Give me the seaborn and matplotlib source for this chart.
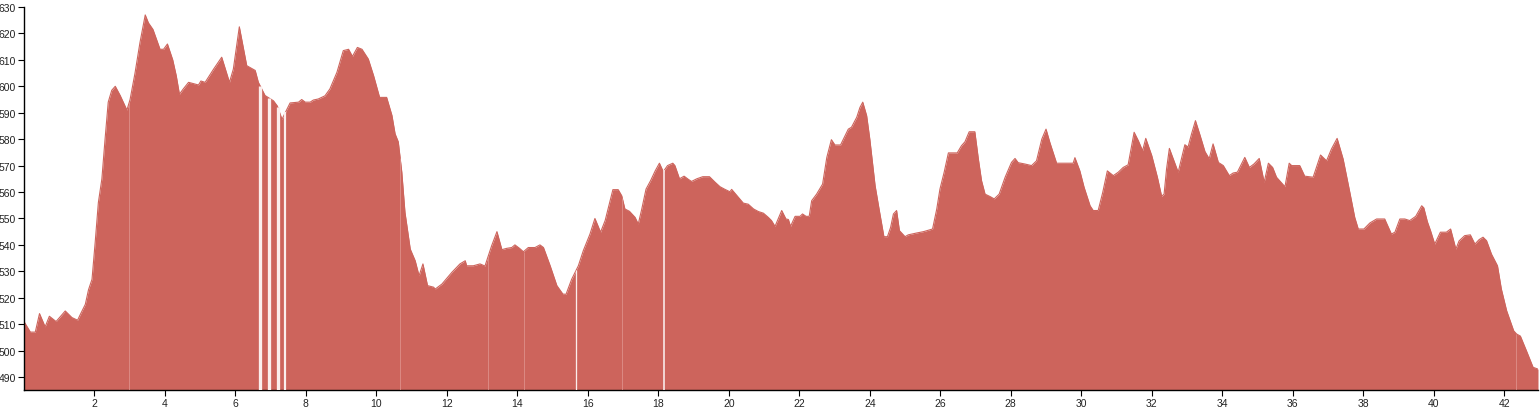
import matplotlib
matplotlib.use("Agg")
import matplotlib.pyplot as plt
import seaborn as sns
import numpy as np
import pandas as pd

# distance (km) and elevation (m)
km = [0.0, 0.18, 0.32, 0.44, 0.6, 0.72, 0.91, 1.17, 1.36, 1.52, 1.61, 1.74, 1.83, 1.93,
      2.02, 2.11, 2.21, 2.30, 2.39, 2.49, 2.59, 2.73, 2.92, 3.01, 3.15, 3.29, 3.44, 3.53,
      3.66, 3.86, 3.96, 4.07, 4.22, 4.32, 4.41, 4.52, 4.67, 4.81, 4.95, 5.02, 5.14, 5.38,
      5.61, 5.83, 5.94, 6.11, 6.32, 6.56, 6.65, 6.84, 7.08, 7.19, 7.32, 7.55, 7.79, 7.88,
      7.98, 8.12, 8.21, 8.35, 8.54, 8.68, 8.88, 9.06, 9.21, 9.32, 9.46, 9.59, 9.77, 9.92,
      10.09, 10.29, 10.44, 10.53, 10.62, 10.72, 10.81, 10.96, 11.10, 11.21, 11.32, 11.45,
      11.62, 11.67, 11.86, 12.14, 12.37, 12.52, 12.56, 12.75, 12.94, 13.08, 13.27, 13.42,
      13.56, 13.70, 13.84, 13.93, 14.06, 14.17, 14.31, 14.50, 14.64, 14.74, 14.93, 15.12,
      15.29, 15.38, 15.54, 15.73, 15.87, 16.06, 16.20, 16.36, 16.49, 16.71, 16.86, 16.96,
      17.05, 17.18, 17.34, 17.43, 17.53, 17.65, 17.78, 17.91, 18.03, 18.14, 18.26, 18.41,
      18.47, 18.60, 18.73, 18.85, 18.94, 19.09, 19.26, 19.45, 19.61, 19.75, 19.89, 20.03,
      20.08, 20.22, 20.41, 20.55, 20.70, 20.84, 20.98, 21.12, 21.21, 21.31, 21.40, 21.50,
      21.62, 21.69, 21.75, 21.88, 22.02, 22.09, 22.19, 22.28, 22.35, 22.49, 22.66, 22.78,
      22.91, 23.01, 23.17, 23.39, 23.48, 23.63, 23.72, 23.80, 23.91, 24.00, 24.15, 24.27,
      24.40, 24.50, 24.59, 24.67, 24.76, 24.84, 25.00, 25.09, 25.33, 25.52, 25.78, 25.90,
      25.99, 26.11, 26.23, 26.48, 26.60, 26.70, 26.82, 26.98, 27.08, 27.17, 27.27, 27.41,
      27.53, 27.67, 27.84, 28.02, 28.12, 28.21, 28.40, 28.59, 28.73, 28.88, 29.00, 29.11,
      29.30, 29.59, 29.77, 29.82, 29.96, 30.08, 30.25, 30.34, 30.48, 30.61, 30.74, 30.91,
      31.05, 31.19, 31.33, 31.50, 31.62, 31.74, 31.83, 32.00, 32.16, 32.28, 32.35, 32.42,
      32.50, 32.75, 32.94, 33.03, 33.13, 33.24, 33.37, 33.51, 33.63, 33.74, 33.89, 34.03,
      34.20, 34.31, 34.43, 34.64, 34.77, 34.90, 35.05, 35.19, 35.31, 35.43, 35.54, 35.78,
      35.90, 35.97, 36.20, 36.34, 36.58, 36.79, 36.96, 37.10, 37.26, 37.43, 37.62, 37.76,
      37.86, 38.02, 38.19, 38.38, 38.61, 38.80, 38.90, 39.04, 39.18, 39.32, 39.49, 39.66,
      39.72, 39.82, 39.91, 40.03, 40.19, 40.36, 40.48, 40.63, 40.72, 40.88, 41.04, 41.17,
      41.29, 41.40, 41.50, 41.64, 41.81, 41.92, 42.07, 42.27, 42.35, 42.46, 42.63, 42.82,
      42.96]

elevation = [511, 507, 507, 514, 509, 513, 511, 515, 512.5, 511.5, 514, 517.5, 523, 527,
             541, 556, 565, 580, 594, 598.5, 600, 596.5, 591, 595, 605, 616.5, 627, 624,
             621.5, 614, 614, 616, 610, 604, 597, 599, 601.5, 601, 600.5, 602, 601.5, 606.5,
             611, 601.5, 606.5, 622.5, 607.8, 606, 601.5, 596.5, 594.5, 592.5, 587.5, 593.7, 594, 595,
             594, 594, 594.8, 595.2, 596.4, 599, 605.3, 613.5, 614, 611.3, 614.7, 614, 610.3, 604,
             595.8, 595.8, 589, 582, 579, 567.5, 552.3, 538.4, 534, 528.3, 532.8, 524.6,
             524, 523.3, 525.2, 529.6, 532.8, 534, 532.1, 532.1, 532.8, 532, 539.7, 545,
             538.2, 538.7, 539, 540, 538.7, 537.4, 539, 539, 540, 539, 532.1, 524.6,
             521.4, 521.3, 527, 532.1, 537.8, 544.1, 550, 544.8, 549.2, 560.9, 560.9, 558.6,
             553.6, 552.7, 550.4, 547.9, 553.6, 561.1, 564.3, 568, 570.9, 567.7, 570, 570.9,
             570, 565, 566, 564.8, 564, 565, 565.8, 565.8, 563.7, 562, 561, 560.1,
             561, 558.8, 555.8, 555.4, 553.6, 552.6, 552, 550.4, 549.2, 547, 549.8, 553,
             549.8, 549.6, 547, 550.8, 550.8, 551.7, 550.8, 550.8, 556.7, 559.2, 563, 573.1,
             579.8, 577.8, 577.8, 583.8, 584.5, 588.3, 592, 594, 588.9, 580, 562.4, 553,
             543.1, 543.1, 546.6, 551.7, 553, 545.4, 543.1, 543.8, 544.5, 545, 546, 553.6,
             561.1, 567.5, 574.8, 574.8, 577.5, 579, 582.8, 582.8, 572.5, 564.3, 559.2, 558.3,
             557.4, 559.2, 565.6, 571.2, 572.7, 571.1, 570.6, 570, 571.8, 580, 583.8, 578.7,
             570.9, 570.9, 570.9, 573, 568, 561.8, 554.8, 553, 553, 559.9, 568, 566.2,
             567.5, 569.3, 570.3, 582.6, 579.4, 575.6, 580.3, 573.8, 565.6, 558.4, 559.2, 568.7,
             576.5, 567.5, 577.9, 577, 582, 587, 581.5, 575.3, 572.6, 578.2, 571.2, 570,
             566.2, 567.2, 567.5, 573.1, 569.3, 570.6, 572.7, 563.7, 570.9, 569.3, 565.6, 562,
             570.9, 570, 570, 566, 565.6, 574, 571.8, 576.3, 580.3, 572.5, 559.9, 550.4,
             546, 546, 548.3, 549.8, 549.8, 544.1, 544.8, 549.8, 549.8, 549.2, 550.8, 554.8,
             554, 548.8, 545.4, 540.3, 544.8, 544.8, 546, 538.4, 541.5, 543.5, 543.8, 540.3,
             542, 542.9, 541.6, 536.5, 532.1, 523.3, 515.1, 507.5, 506.3, 505.5, 500, 493.7,
             493]

# segment seams in the profile (km)
gap_km = [6.70, 6.95, 7.20, 7.42, 15.67, 18.17]
gap_width_px = [3.3, 3.3, 3.3, 2.2, 1.3, 1.6]
seam_km = [2.99, 10.67, 13.17, 14.19, 16.97, 42.33]

x_ticks = list(range(2, 43, 2))
y_ticks = list(range(490, 631, 10))

FILL = "#cd645c"

sns.set_theme(style="white")
plt.rcParams["font.family"] = ["Liberation Sans", "DejaVu Sans"]

df = pd.DataFrame({"km": km, "elevation": elevation})

fig = plt.figure(figsize=(15.4, 4.1), dpi=100)
ax = fig.add_axes([24 / 1540, 1 - 391 / 410, (1538 - 24) / 1540, (391 - 8) / 410])

ymin = 485.1
ax.fill_between(df["km"], df["elevation"], ymin, color=FILL, linewidth=0)
sns.lineplot(data=df, x="km", y="elevation", ax=ax, color=FILL, linewidth=0.8)

px_to_pt = 72 / 100
gap_tops = np.interp(gap_km, km, elevation)
for g, top, w in zip(gap_km, gap_tops, gap_width_px):
    ax.vlines(g, ymin, top, color="#fbeeed", linewidth=w * px_to_pt, zorder=3)
seam_tops = np.interp(seam_km, km, elevation)
for s, top in zip(seam_km, seam_tops):
    ax.vlines(s, ymin, top - 0.3, color="#e29892", linewidth=0.7 * px_to_pt, zorder=3)

ax.set_xlim(0, 42.96)
ax.set_ylim(ymin, 630)
ax.set_xticks(x_ticks)
ax.set_xticklabels([str(t) for t in x_ticks])
ax.set_yticks(y_ticks)
ax.set_yticklabels([str(t) for t in y_ticks])
ax.set_xlabel("")
ax.set_ylabel("")

for side in ["top", "right"]:
    ax.spines[side].set_visible(False)
for side in ["left", "bottom"]:
    ax.spines[side].set_color("black")
    ax.spines[side].set_linewidth(1.0)

ax.tick_params(axis="both", which="major", direction="out", length=4, width=0.8,
               color="black", labelsize=7.5, labelcolor="#222222", pad=2,
               left=True, bottom=True)

fig.savefig("out.png", dpi=100, facecolor="white")
